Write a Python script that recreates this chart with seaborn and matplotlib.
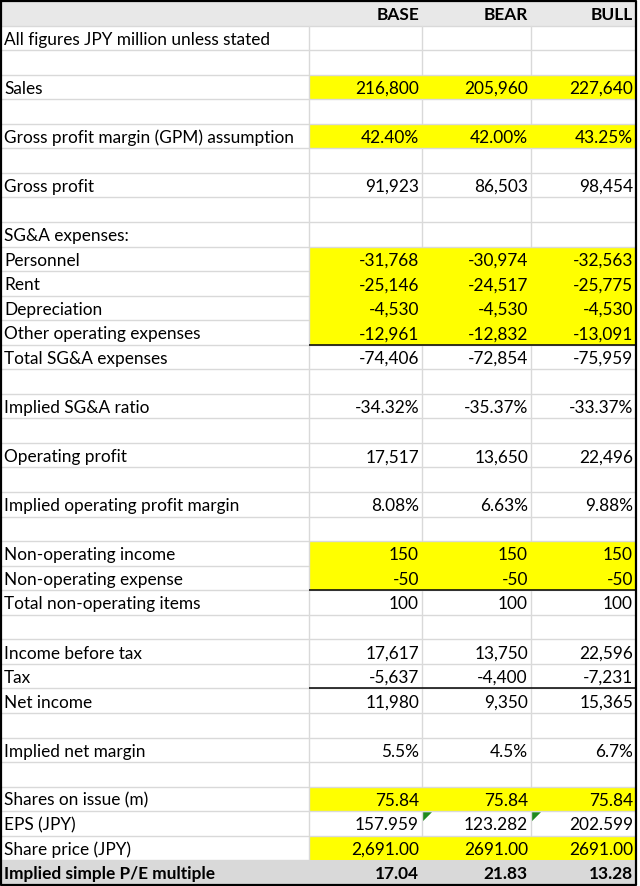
import numpy as np
import matplotlib
matplotlib.use("Agg")
import matplotlib.pyplot as plt
from matplotlib.colors import ListedColormap
import seaborn as sns

sns.set_theme(style="white")
plt.rcParams['font.family'] = ['Lato', 'DejaVu Sans']

SCENARIOS = ["BASE", "BEAR", "BULL"]

LABELS = ["All figures JPY million unless stated", "", "Sales", "",
          "Gross profit margin (GPM) assumption", "", "Gross profit", "",
          "SG&A expenses:", "Personnel", "Rent", "Depreciation",
          "Other operating expenses", "Total SG&A expenses", "",
          "Implied SG&A ratio", "", "Operating profit", "",
          "Implied operating profit margin", "", "Non-operating income",
          "Non-operating expense", "Total non-operating items", "",
          "Income before tax", "Tax", "Net income", "", "Implied net margin", "",
          "Shares on issue (m)", "EPS (JPY)", "Share price (JPY)",
          "Implied simple P/E multiple"]

BASE = ["", "", "216,800", "", "42.40%", "", "91,923", "", "", "-31,768", "-25,146",
        "-4,530", "-12,961", "-74,406", "", "-34.32%", "", "17,517", "", "8.08%", "",
        "150", "-50", "100", "", "17,617", "-5,637", "11,980", "", "5.5%", "",
        "75.84", "157.959", "2,691.00", "17.04"]
BEAR = ["", "", "205,960", "", "42.00%", "", "86,503", "", "", "-30,974", "-24,517",
        "-4,530", "-12,832", "-72,854", "", "-35.37%", "", "13,650", "", "6.63%", "",
        "150", "-50", "100", "", "13,750", "-4,400", "9,350", "", "4.5%", "",
        "75.84", "123.282", "2691.00", "21.83"]
BULL = ["", "", "227,640", "", "43.25%", "", "98,454", "", "", "-32,563", "-25,775",
        "-4,530", "-13,091", "-75,959", "", "-33.37%", "", "22,496", "", "9.88%", "",
        "150", "-50", "100", "", "22,596", "-7,231", "15,365", "", "6.7%", "",
        "75.84", "202.599", "2691.00", "13.28"]

# input (yellow) rows, rows with a black rule above, rows with a flag
INPUT_ROWS = ["Sales", "Gross profit margin (GPM) assumption", "Personnel", "Rent",
              "Depreciation", "Other operating expenses", "Non-operating income",
              "Non-operating expense", "Shares on issue (m)", "Share price (JPY)"]
TOTAL_ROWS = ["Total SG&A expenses", "Total non-operating items", "Net income"]
FLAG_ROW = "EPS (JPY)"

W, H = 640, 886
TOP, PITCH = 1.0, 24.55
XS = [1, 309, 422, 531, 636]
NROW = len(LABELS) + 1

WHITE, YELLOW, HEAD, FOOT = "#ffffff", "#ffff00", "#e8e8e8", "#d9d9d9"
GRID = "#d9d9d9"

codes = np.zeros((NROW, 3))
codes[0, :] = 2
codes[-1, :] = 3
for i, lab in enumerate(LABELS):
    if lab in INPUT_ROWS:
        codes[i + 1, :] = 1

fig = plt.figure(figsize=(W / 100, H / 100), dpi=100)
bottom = TOP + NROW * PITCH
hx = fig.add_axes([XS[1] / W, (H - bottom) / H, (XS[4] - XS[1]) / W, NROW * PITCH / H])
sns.heatmap(codes, cmap=ListedColormap([WHITE, YELLOW, HEAD, FOOT]), vmin=-0.5, vmax=3.5,
            cbar=False, xticklabels=False, yticklabels=False, ax=hx)
hx.set_axis_off()

ax = fig.add_axes([0, 0, 1, 1])
ax.patch.set_alpha(0)
ax.set_xlim(0, W)
ax.set_ylim(H, 0)
ax.set_axis_off()


def ry(i):
    return TOP + i * PITCH


# label column fills for header / footer
ax.fill_between([XS[0], XS[1]], ry(0), ry(1), color=HEAD, lw=0)
ax.fill_between([XS[0], XS[1]], ry(NROW - 1), ry(NROW), color=FOOT, lw=0)

# light grid
for k in range(1, NROW):
    ax.hlines(ry(k), XS[0], XS[1], color=GRID, lw=1.0)
    for j in range(3):
        if codes[k - 1, j] == 0 or codes[k, j] == 0:
            ax.hlines(ry(k), XS[j + 1], XS[j + 2], color=GRID, lw=1.0)
for i in range(1, NROW - 1):
    ax.vlines(XS[1], ry(i), ry(i + 1), color=GRID, lw=1.0)
    for j in range(1, 3):
        if codes[i, j - 1] == 0 or codes[i, j] == 0:
            ax.vlines(XS[j + 1], ry(i), ry(i + 1), color=GRID, lw=1.0)

# black rules above totals
for i, lab in enumerate(LABELS):
    if lab in TOTAL_ROWS:
        ax.hlines(ry(i + 1), XS[1], XS[4], color="black", lw=1.1)

# green flags
for i, lab in enumerate(LABELS):
    if lab == FLAG_ROW:
        for j in (2, 3):
            x0, y0 = XS[j] + 1, ry(i + 1) + 1
            ax.fill([x0, x0 + 9, x0], [y0, y0, y0 + 9], color="#1e8a1e", lw=0)

# outer border
ax.plot([XS[0], XS[4], XS[4], XS[0], XS[0]], [ry(0), ry(0), bottom, bottom, ry(0)],
        color="black", lw=1.6)

FS = 12.4
for j, name in enumerate(SCENARIOS):
    ax.text(XS[j + 2] - 3, ry(0.55), name, ha="right", va="center",
            fontsize=FS, fontweight="bold", color="black")

cols = [BASE, BEAR, BULL]
for i, lab in enumerate(LABELS):
    y = ry(i + 1.58)
    bold = "bold" if i == len(LABELS) - 1 else "normal"
    ax.text(4, y, lab, ha="left", va="center", fontsize=FS, fontweight=bold, color="black")
    for j in range(3):
        ax.text(XS[j + 2] - 3, y, cols[j][i], ha="right", va="center",
                fontsize=FS, fontweight=bold, color="black")

fig.savefig("out.png", dpi=100)
